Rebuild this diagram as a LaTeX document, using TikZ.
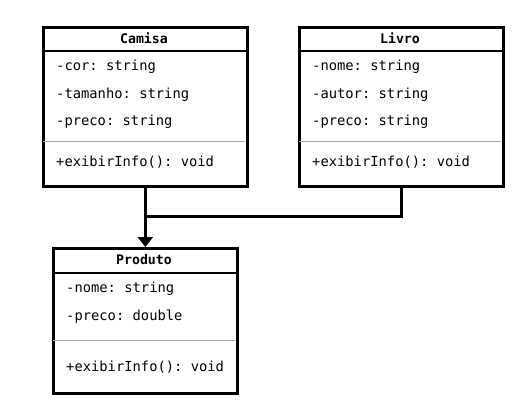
\documentclass[tikz,border=0pt]{standalone}
\usepackage{fontspec}
\setmonofont{DejaVu Sans Mono}
\usetikzlibrary{arrows.meta}

\tikzset{
  classbox/.style = {draw, line width=2.6pt, inner sep=0pt, anchor=north west},
  classname/.style = {font=\ttfamily\bfseries\fontsize{13.2}{16}\selectfont},
  member/.style = {anchor=base west, inner sep=0pt, font=\ttfamily\fontsize{13.8}{16}\selectfont},
  headline/.style = {line width=2.6pt},
  sepline/.style = {line width=1pt, draw=black!35},
  link/.style = {line width=3pt},
}

\begin{document}
\begin{tikzpicture}[x=1pt, y=-1pt]
  \useasboundingbox (0,0) rectangle (524,402);

  % Camisa
  \node[classbox, minimum width=204pt, minimum height=159pt] (camisa) at (42,26) {};
  \node[classname] (camisa name) at (144,38.5) {Camisa};
  \draw[headline] (42,51) -- (246,51);
  \node[member] (camisa cor) at (56,70) {-cor: string};
  \node[member] (camisa tam) at (56,98) {-tamanho: string};
  \node[member] (camisa preco) at (56,125) {-preco: string};
  \draw[sepline] (43,141) -- (245,141);
  \node[member] (camisa info) at (56,166) {+exibirInfo(): void};

  % Livro
  \node[classbox, minimum width=204pt, minimum height=159pt] (livro) at (298,26) {};
  \node[classname] (livro name) at (400,38.5) {Livro};
  \draw[headline] (298,51) -- (502,51);
  \node[member] (livro nome) at (312,70) {-nome: string};
  \node[member] (livro autor) at (312,98) {-autor: string};
  \node[member] (livro preco) at (312,125) {-preco: string};
  \draw[sepline] (299,141) -- (501,141);
  \node[member] (livro info) at (312,166) {+exibirInfo(): void};

  % Produto
  \node[classbox, minimum width=184pt, minimum height=145pt] (produto) at (52,247) {};
  \node[classname] (produto name) at (144,260) {Produto};
  \draw[headline] (52,273) -- (236,273);
  \node[member] (produto nome) at (66,292) {-nome: string};
  \node[member] (produto preco) at (66,320) {-preco: double};
  \draw[sepline] (53,340) -- (235,340);
  \node[member] (produto info) at (66,371) {+exibirInfo(): void};

  % heranca
  \coordinate (join) at (camisa.south |- 0,216);
  \draw[link, -{Triangle[length=10pt, width=15pt]}] (camisa.south) -- (produto.north);
  \draw[link] (livro.south) |- (join);
\end{tikzpicture}
\end{document}
